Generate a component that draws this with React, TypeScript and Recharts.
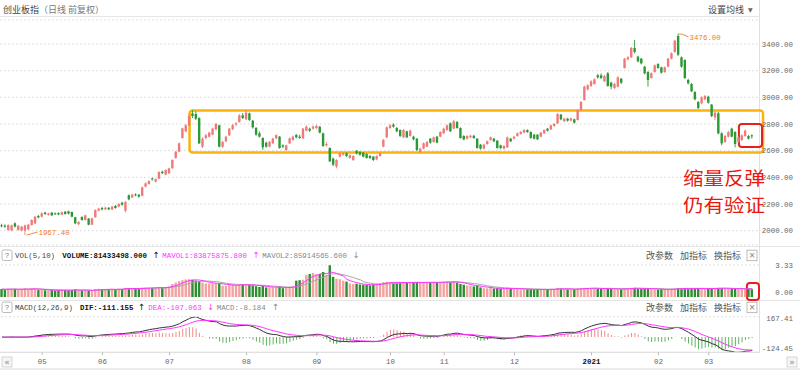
import React from 'react';
import { ComposedChart, Bar, Line, XAxis, YAxis, CartesianGrid, ReferenceArea, ReferenceDot, ReferenceLine, Cell } from 'recharts';

// ---------- data (225 trading days, mid-Apr 2020 .. mid-Mar 2021) ----------
const OPEN = [
  2040,2038,2005,2002,2055,2005,2002,2000,2010,2042,
  2055,2110,2105,2135,2118,2135,2130,2132,2120,2142,
  2145,2140,2100,2048,2102,2080,2090,2045,2100,2150,
  2170,2160,2172,2158,2185,2180,2210,2150,2265,2250,
  2272,2270,2262,2330,2350,2392,2368,2390,2442,2420,
  2430,2468,2545,2592,2695,2745,2790,2880,2875,2845,
  2630,2695,2705,2720,2760,2790,2630,2670,2715,2760,
  2795,2815,2865,2835,2880,2825,2770,2730,2695,2660,
  2630,2655,2692,2705,2640,2605,2655,2680,2717,2705,
  2692,2750,2765,2765,2770,2780,2730,2640,2620,2540,
  2480,2555,2570,2580,2545,2530,2600,2590,2585,2575,
  2560,2555,2535,2560,2630,2700,2770,2795,2770,2755,
  2700,2745,2710,2705,2690,2590,2615,2630,2690,2665,
  2705,2705,2730,2755,2805,2765,2815,2770,2710,2690,
  2700,2712,2690,2645,2615,2650,2680,2690,2675,2640,
  2615,2625,2690,2690,2710,2725,2735,2755,2740,2720,
  2720,2705,2730,2765,2760,2785,2805,2870,2820,2840,
  2825,2835,2830,2905,2980,3060,3085,3100,3165,3165,
  3120,3180,3110,3070,3080,3140,3220,3285,3300,3370,
  3305,3290,3230,3190,3145,3190,3250,3225,3190,3230,
  3290,3340,3460,3300,3280,3130,3100,3040,2965,2955,
  2985,3005,2945,2850,2880,2730,2665,2705,2765,2740,
  2665,2680,2710,2710,2715,
];
const CLOSE = [
  2035,2030,2042,2040,2030,2037,2030,2040,2045,2080,
  2105,2100,2130,2125,2128,2115,2125,2122,2138,2125,
  2128,2105,2055,2065,2080,2115,2045,2092,2155,2165,
  2160,2172,2160,2180,2170,2200,2195,2215,2235,2270,
  2265,2255,2325,2355,2372,2385,2387,2440,2432,2455,
  2467,2530,2592,2655,2767,2790,2860,2860,2840,2655,
  2690,2715,2735,2765,2800,2630,2665,2705,2765,2792,
  2805,2865,2845,2885,2830,2775,2720,2705,2625,2630,
  2667,2690,2717,2620,2630,2640,2692,2705,2700,2695,
  2765,2780,2750,2780,2785,2735,2635,2650,2520,2495,
  2530,2580,2580,2560,2565,2560,2580,2570,2555,2545,
  2545,2530,2560,2580,2680,2775,2790,2780,2745,2710,
  2755,2700,2750,2685,2605,2615,2655,2665,2660,2700,
  2660,2740,2765,2790,2745,2820,2770,2695,2685,2710,
  2712,2695,2620,2615,2645,2670,2700,2670,2620,2620,
  2635,2700,2670,2705,2730,2740,2755,2740,2695,2690,
  2685,2735,2755,2750,2790,2800,2875,2835,2840,2825,
  2842,2810,2905,2965,3080,3090,3120,3135,3150,3145,
  3160,3085,3080,3100,3150,3110,3290,3300,3370,3340,
  3270,3255,3180,3130,3180,3240,3220,3185,3225,3290,
  3330,3425,3320,3230,3145,3105,3045,2985,2920,3000,
  3010,2960,2860,2885,2730,2655,2710,2740,2705,2650,
  2700,2715,2750,2690,2708,
];
const HIGH = [
  2052,2048,2048,2046,2062,2042,2036,2045,2050,2086,
  2110,2118,2138,2142,2134,2140,2136,2138,2144,2148,
  2150,2143,2104,2072,2108,2120,2095,2098,2160,2172,
  2178,2180,2176,2186,2192,2206,2216,2222,2272,2276,
  2280,2274,2330,2362,2378,2398,2392,2446,2450,2460,
  2472,2535,2598,2662,2772,2800,2870,2905,2895,2850,
  2700,2725,2742,2772,2808,2795,2675,2712,2770,2800,
  2815,2875,2882,2905,2886,2830,2778,2745,2700,2668,
  2672,2698,2722,2710,2648,2645,2698,2712,2725,2720,
  2770,2790,2772,2790,2795,2785,2735,2665,2625,2548,
  2536,2586,2590,2588,2572,2566,2605,2596,2590,2580,
  2568,2560,2566,2586,2688,2782,2800,2805,2778,2760,
  2762,2750,2758,2712,2695,2622,2662,2672,2695,2706,
  2710,2746,2772,2798,2812,2832,2822,2775,2716,2716,
  2720,2718,2694,2650,2652,2676,2706,2696,2680,2645,
  2642,2706,2696,2712,2736,2748,2762,2760,2745,2726,
  2724,2740,2760,2770,2796,2808,2882,2876,2846,2846,
  2848,2840,2910,2972,3088,3098,3128,3142,3175,3180,
  3168,3190,3118,3108,3158,3145,3296,3310,3378,3430,
  3312,3296,3236,3196,3188,3246,3256,3230,3232,3296,
  3338,3432,3476,3306,3285,3140,3108,3046,2972,3008,
  3018,3012,2950,2895,2890,2738,2718,2748,2772,2746,
  2708,2722,2758,2718,2722,
];
const LOW = [
  2025,2022,2000,1995,2025,2000,1994,1967.4,2005,2038,
  2050,2092,2100,2118,2112,2110,2118,2116,2115,2120,
  2122,2100,2048,2040,2075,2076,2040,2042,2098,2145,
  2152,2155,2154,2155,2165,2175,2188,2138,2228,2245,
  2258,2248,2258,2325,2345,2376,2362,2386,2425,2415,
  2425,2465,2540,2588,2690,2738,2785,2845,2830,2650,
  2620,2685,2698,2715,2752,2625,2620,2664,2710,2755,
  2785,2810,2838,2830,2822,2765,2712,2698,2605,2622,
  2625,2650,2686,2615,2618,2598,2650,2675,2692,2688,
  2688,2745,2740,2758,2762,2730,2628,2630,2515,2485,
  2468,2550,2562,2552,2540,2522,2572,2562,2550,2540,
  2538,2522,2528,2555,2625,2695,2762,2772,2738,2702,
  2695,2694,2705,2678,2598,2580,2610,2625,2652,2660,
  2655,2700,2725,2750,2740,2760,2765,2690,2678,2684,
  2694,2688,2615,2608,2610,2644,2675,2664,2615,2612,
  2608,2620,2664,2684,2704,2720,2730,2734,2690,2684,
  2680,2700,2725,2744,2755,2780,2800,2828,2815,2818,
  2820,2804,2825,2900,2975,3052,3078,3095,3140,3138,
  3115,3080,3060,3062,3075,3100,3215,3278,3295,3330,
  3262,3248,3172,3080,3140,3185,3214,3178,3184,3225,
  3285,3335,3310,3222,3138,3098,3040,2978,2912,2948,
  2978,2952,2852,2830,2722,2640,2658,2698,2700,2625,
  2660,2672,2705,2684,2690,
];
// volume in millions of shares
const VOLUME_M = [
  82,78,85,80,84,76,80,90,82,88,
  86,72,75,70,68,72,66,70,74,71,
  69,73,80,68,70,72,66,64,82,85,
  80,78,76,84,80,86,82,95,92,88,
  85,83,98,100,96,94,92,105,98,102,
  110,135,150,165,175,182,185,178,170,165,
  150,140,138,142,145,140,118,115,125,128,
  122,130,126,132,125,122,112,105,115,100,
  98,100,102,108,92,95,105,110,170,175,
  180,230,240,250,235,240,260,230,333,210,
  190,185,170,160,140,135,138,130,128,125,
  122,128,140,145,155,158,152,150,148,150,
  155,150,152,148,156,150,154,152,150,155,
  150,156,158,160,156,162,150,135,128,120,
  115,110,118,100,92,90,95,88,92,85,
  84,96,88,86,84,80,82,78,80,76,
  78,80,82,76,84,80,95,88,82,80,
  78,80,88,92,95,92,90,92,88,86,
  85,90,84,80,82,80,92,90,95,96,
  88,84,86,90,82,80,78,80,76,82,
  84,88,92,88,92,86,88,90,92,88,
  85,86,90,92,95,94,88,86,84,88,
  86,84,85,83,81.433498,
];
const PRICE_TICKS = [2000, 2200, 2400, 2600, 2800, 3000, 3200, 3400];
const VOL_TICKS = [0, 333000000];
const MACD_TICKS = [167.41, -124.45];
const MONTH_LABELS = ['05', '06', '07', '08', '09', '10', '11', '12', '2021', '02', '03'];
const MONTH_INDEX = [12, 30, 50, 73, 94, 116, 132, 153, 176, 196, 211];

// ---------- indicators (VOL(5,10), MACD(12,26,9)) built from the series above ----------
function ema(v: number[], n: number) {
  const k = 2 / (n + 1);
  const out: number[] = [];
  v.forEach((x, i) => out.push(i === 0 ? x : x * k + out[i - 1] * (1 - k)));
  return out;
}
function ma(v: number[], n: number) {
  return v.map((_, i) => {
    const s = v.slice(Math.max(0, i - n + 1), i + 1);
    return s.reduce((a, b) => a + b, 0) / s.length;
  });
}
const e12 = ema(CLOSE, 12);
const e26 = ema(CLOSE, 26);
const DIF = e12.map((x, i) => x - e26[i]);
const DEA = ema(DIF, 9);
const MA5 = ma(VOLUME_M, 5);
const MA10 = ma(VOLUME_M, 10);

const rows = OPEN.map((o, i) => ({
  i, o, c: CLOSE[i], h: HIGH[i], l: LOW[i],
  range: [LOW[i], HIGH[i]],
  up: CLOSE[i] >= o,
  vol: VOLUME_M[i] * 1e6,
  ma5: MA5[i] * 1e6,
  ma10: MA10[i] * 1e6,
  dif: DIF[i], dea: DEA[i], macd: 2 * (DIF[i] - DEA[i]),
}));

// ---------- styling ----------
const X_DOMAIN: [number, number] = [-0.6, 226];
const UP = '#f07a7a';
const DOWN = '#2b9934';
const VOL_UP = '#f3a2a2';
const VOL_DOWN = '#2e8c31';
const MAGENTA = '#ff33ff';
const ORANGE = '#f07a2a';
const MONO = '"Liberation Mono", "DejaVu Sans Mono", monospace';
const CJK = '"Noto Sans CJK SC", "Noto Sans", sans-serif';
const CH = 4.45;

function Mono({ x, y, s, fill = '#555', bold = false, anchor = 'start', size = 7.8 }: any) {
  return (
    <text x={x} y={y} dy="0.35em" textAnchor={anchor} fill={fill} fontFamily={MONO} fontSize={size}
      fontWeight={bold ? 700 : 400} textLength={s.length * CH} lengthAdjust="spacingAndGlyphs">{s}</text>
  );
}
function Cjk({ x, y, s, fill = '#555', size = 9 }: any) {
  return <text x={x} y={y} dy="0.35em" fill={fill} fontFamily={CJK} fontSize={size}>{s}</text>;
}
function Arrow({ x, y, s, fill }: any) {
  return <text x={x} y={y} dy="0.35em" fill={fill} fontFamily='"DejaVu Sans", sans-serif' fontSize={8.5}>{s}</text>;
}

const Candle = (p: any) => {
  const { x, y, width, height, payload } = p;
  if (x == null || y == null) return null;
  const { o, c, h, l } = payload;
  const top = Math.min(y, y + height);
  const hh = Math.abs(height);
  const r = hh / (h - l);
  const bodyTop = top + (h - Math.max(o, c)) * r;
  const bodyH = Math.max(1, Math.abs(o - c) * r);
  const color = c >= o ? UP : DOWN;
  const cx = x + width / 2;
  return (
    <g>
      <line x1={cx} x2={cx} y1={top} y2={top + hh} stroke={color} strokeWidth={0.9} />
      <rect x={x} y={bodyTop} width={width} height={bodyH} fill={color} />
    </g>
  );
};

const PriceTick = (p: any) => <Mono x={p.x + 34} y={p.y} s={Number(p.payload.value).toFixed(2)} anchor="end" fill="#666" />;
const VolTick = (p: any) => (
  <Mono x={p.x + 34} y={p.y + (p.payload.value === 0 ? -5 : 0)} s={(p.payload.value / 1e8).toFixed(2)} anchor="end" fill="#666" />
);
const MacdTick = (p: any) => (
  <Mono x={p.x + 34} y={p.y + (p.payload.value > 0 ? 1.6 : -4)} s={Number(p.payload.value).toFixed(2)} anchor="end" fill="#666" />
);
const DateTick = (p: any) => {
  const s = MONTH_LABELS[MONTH_INDEX.indexOf(p.payload.value)] || '';
  const bold = s === '2021';
  return <Mono x={p.x} y={p.y + 4} s={s} anchor="middle" fill={bold ? '#111' : '#666'} bold={bold} />;
};

const PeakMark = (p: any) => (
  <g>
    <polyline points={`${p.cx},${p.cy} ${p.cx + 4},${p.cy + 0.5} ${p.cx + 10},${p.cy + 3}`} stroke={ORANGE} fill="none" strokeWidth={0.9} />
    <Mono x={p.cx + 11} y={p.cy + 3.3} s="3476.00" fill={ORANGE} />
  </g>
);
const LowMark = (p: any) => (
  <g>
    <polyline points={`${p.cx + 1},${p.cy} ${p.cx + 5},${p.cy - 1} ${p.cx + 12},${p.cy - 3}`} stroke={ORANGE} fill="none" strokeWidth={0.9} />
    <Mono x={p.cx + 13} y={p.cy - 2.5} s="1967.40" fill={ORANGE} />
  </g>
);

function HelpBox({ y }: any) {
  return (
    <g>
      <rect x={2} y={y} width={10} height={10.5} rx={1.5} fill="#fff" stroke="#aaa" strokeWidth={0.8} />
      <text x={7} y={y + 5.3} dy="0.35em" textAnchor="middle" fontSize={7.5} fill="#777" fontFamily={MONO}>?</text>
    </g>
  );
}
function RightTools({ y }: any) {
  return (
    <g>
      <Cjk x={646} y={y} s="改参数" />
      <Cjk x={680} y={y} s="加指标" />
      <Cjk x={714} y={y} s="换指标" />
      <rect x={747} y={y - 5.3} width={10} height={10.5} fill="#fff" stroke="#aaa" strokeWidth={0.8} />
      <text x={752} y={y} dy="0.35em" textAnchor="middle" fontSize={8} fill="#777" fontFamily='"DejaVu Sans", sans-serif'>×</text>
    </g>
  );
}

const abs = (top: number, height: number): React.CSSProperties => ({ position: 'absolute', left: 0, top, width: 800, height });

export default function App() {
  return (
    <div style={{ position: 'absolute', left: 0, top: 0, width: 800, height: 370, background: '#fff', overflow: 'hidden' }}>
      {/* separators */}
      <div style={{ position: 'absolute', left: 0, top: 16, width: 759, height: 1, background: '#e6e6e6' }} />
      <div style={{ position: 'absolute', left: 0, top: 246, width: 800, height: 1, background: '#e6e6e6' }} />
      <div style={{ position: 'absolute', left: 0, top: 300, width: 800, height: 1, background: '#e6e6e6' }} />
      <div style={{ position: 'absolute', left: 759, top: 0, width: 1, height: 353, background: '#e0e0e0' }} />
      <div style={{ position: 'absolute', left: 0, top: 368, width: 800, height: 2, background: '#ececec' }} />

      {/* main candlestick pane */}
      <div style={abs(0, 246)}>
        <ComposedChart width={800} height={246} data={rows} margin={{ top: 20, right: 0, bottom: 1, left: 0 }}>
          <CartesianGrid vertical={false} stroke="#d6d6d6" strokeDasharray="1.5 2.5" />
          <XAxis dataKey="i" type="number" domain={X_DOMAIN} hide allowDataOverflow />
          <YAxis orientation="right" width={41} domain={[1892.5, 3580]} ticks={PRICE_TICKS} interval={0}
            tick={<PriceTick />} tickLine={false} axisLine={false} tickSize={0} tickMargin={0} allowDataOverflow />
          <Bar dataKey="range" shape={Candle} barSize={2.4} isAnimationActive={false} />
          <ReferenceArea x1={56} x2={227.2} y1={2586} y2={2901} fill="none" fillOpacity={0} stroke="#fbb20a"
            strokeWidth={2.5} radius={3} ifOverflow="visible" />
          <ReferenceArea x1={220} x2={226.9} y1={2627.5} y2={2800} fill="none" fillOpacity={0} stroke="#e8201a"
            strokeWidth={2} radius={3} ifOverflow="visible" />
          <ReferenceDot x={202} y={3476} r={0} shape={PeakMark} ifOverflow="visible" />
          <ReferenceDot x={7} y={1967.4} r={0} shape={LowMark} ifOverflow="visible" />
        </ComposedChart>
      </div>

      {/* volume pane */}
      <div style={abs(262, 40)}>
        <ComposedChart width={800} height={40} data={rows} margin={{ top: 3, right: 0, bottom: 5, left: 0 }}>
          <XAxis dataKey="i" type="number" domain={X_DOMAIN} hide allowDataOverflow />
          <YAxis orientation="right" width={41} domain={[0, 333000000]} ticks={VOL_TICKS} interval={0}
            tick={<VolTick />} tickLine={false} axisLine={false} tickSize={0} tickMargin={0} allowDataOverflow />
          <ReferenceLine y={333000000} stroke="#d6d6d6" strokeDasharray="1.5 2.5" />
          <Bar dataKey="vol" barSize={2.4} isAnimationActive={false}>
            {rows.map((r) => <Cell key={r.i} fill={r.up ? VOL_UP : VOL_DOWN} />)}
          </Bar>
          <Line dataKey="ma10" stroke="#a8a8a8" strokeWidth={1} dot={false} isAnimationActive={false} />
          <Line dataKey="ma5" stroke={MAGENTA} strokeWidth={1} dot={false} isAnimationActive={false} />
          <ReferenceArea x1={222.4} x2={226} y1={-31000000} y2={146000000} fill="none" fillOpacity={0}
            stroke="#e8201a" strokeWidth={2} radius={3} ifOverflow="visible" />
        </ComposedChart>
      </div>

      {/* MACD pane + date axis */}
      <div style={abs(310, 60)}>
        <ComposedChart width={800} height={60} data={rows} margin={{ top: 6.7, right: 0, bottom: 0, left: 0 }}>
          <XAxis dataKey="i" type="number" domain={X_DOMAIN} ticks={MONTH_INDEX} interval={0} height={17.7}
            tick={<DateTick />} tickSize={3} axisLine={{ stroke: '#dcdcdc' }} tickLine={{ stroke: '#bbb' }} allowDataOverflow />
          <YAxis orientation="right" width={41} domain={[-124.45, 167.41]} ticks={MACD_TICKS} interval={0}
            tick={<MacdTick />} tickLine={false} axisLine={false} tickSize={0} tickMargin={0} allowDataOverflow />
          <ReferenceLine y={167.41} stroke="#d6d6d6" strokeDasharray="1.5 2.5" />
          <ReferenceLine y={-124.45} stroke="#d6d6d6" strokeDasharray="1.5 2.5" />
          <Bar dataKey="macd" barSize={1} isAnimationActive={false}>
            {rows.map((r) => <Cell key={r.i} fill={r.macd >= 0 ? '#f08a8a' : '#5fb45f'} />)}
          </Bar>
          <Line dataKey="dif" stroke="#333" strokeWidth={1} dot={false} isAnimationActive={false} />
          <Line dataKey="dea" stroke={MAGENTA} strokeWidth={1} dot={false} isAnimationActive={false} />
        </ComposedChart>
      </div>

      {/* header texts and annotations */}
      <svg width={800} height={370} style={{ position: 'absolute', left: 0, top: 0, pointerEvents: 'none' }}>
        <Cjk x={3} y={9.5} s="创业板指" fill="#444" />
        <Cjk x={39} y={9.5} s="（日线 前复权）" fill="#777" />
        <Cjk x={708} y={10} s="设置均线" fill="#444" />
        <text x={748} y={10} dy="0.35em" fontSize={6} fill="#666" fontFamily='"DejaVu Sans", sans-serif'>▼</text>

        <HelpBox y={250} />
        <Mono x={15} y={255.5} s="VOL(5,10)" fill="#444" />
        <Mono x={62.3} y={255.5} s="VOLUME:81433498.000" fill="#111" bold />
        <Arrow x={152.5} y={255.5} s="↑" fill="#111" />
        <Mono x={162.3} y={255.5} s="MAVOL1:83875875.800" fill={MAGENTA} />
        <Arrow x={252.5} y={255.5} s="↑" fill={MAGENTA} />
        <Mono x={262.3} y={255.5} s="MAVOL2:85914565.600" fill="#888" />
        <Arrow x={352.5} y={255.5} s="↓" fill="#888" />
        <RightTools y={255.5} />

        <HelpBox y={302} />
        <Mono x={15} y={307.5} s="MACD(12,26,9)" fill="#444" />
        <Mono x={80} y={307.5} s="DIF:-111.155" fill="#111" bold />
        <Arrow x={138} y={307.5} s="↑" fill="#111" />
        <Mono x={148.3} y={307.5} s="DEA:-107.063" fill={MAGENTA} />
        <Arrow x={207} y={307.5} s="↓" fill={MAGENTA} />
        <Mono x={216.7} y={307.5} s="MACD:-8.184" fill="#888" />
        <Arrow x={272} y={307.5} s="↑" fill="#888" />
        <RightTools y={307.5} />

        <text x={683} y={178.5} dy="0.35em" fontFamily={CJK} fontSize={18.5} fill="#e8190f" textLength={82} lengthAdjust="spacingAndGlyphs">缩量反弹</text>
        <text x={683} y={205.5} dy="0.35em" fontFamily={CJK} fontSize={18.5} fill="#e8190f" textLength={82} lengthAdjust="spacingAndGlyphs">仍有验证</text>

        <rect x={2} y={357} width={10} height={10} fill="#f6f6f6" stroke="#ccc" strokeWidth={0.8} />
        <text x={7} y={362} dy="0.35em" textAnchor="middle" fontSize={9} fill="#888" fontFamily='"DejaVu Sans", sans-serif'>«</text>
        <rect x={787} y={357} width={10} height={10} fill="#f6f6f6" stroke="#ccc" strokeWidth={0.8} />
        <text x={792} y={362} dy="0.35em" textAnchor="middle" fontSize={9} fill="#888" fontFamily='"DejaVu Sans", sans-serif'>»</text>
      </svg>
    </div>
  );
}
